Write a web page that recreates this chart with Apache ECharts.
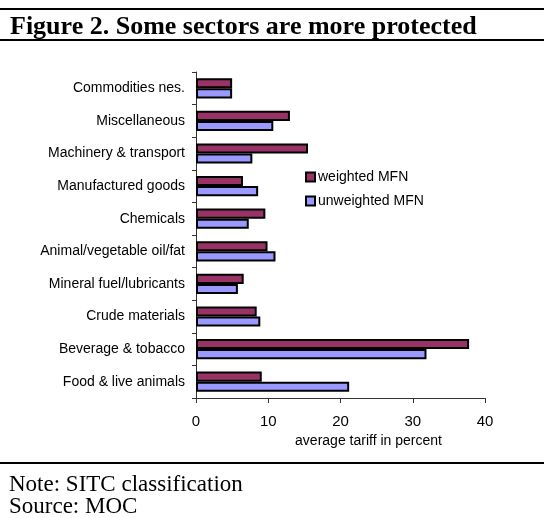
<!DOCTYPE html>
<html>
<head>
<meta charset="utf-8">
<script src="https://cdn.jsdelivr.net/npm/echarts@6/dist/echarts.min.js"></script>
<style>
  html, body { margin: 0; padding: 0; background: #fff; }
  #chart { width: 544px; height: 518px; }
</style>
</head>
<body>
<div id="chart"></div>
<script>
// sectors, bottom to top as drawn
var sectors = ['Food & live animals', 'Beverage & tobacco', 'Crude materials',
  'Mineral fuel/lubricants', 'Animal/vegetable oil/fat', 'Chemicals',
  'Manufactured goods', 'Machinery & transport', 'Miscellaneous', 'Commodities nes.'];

var weighted = [9.1, 37.8, 8.4, 6.6, 9.9, 9.6, 6.5, 15.5, 13.0, 5.0];
var unweighted = [21.2, 31.9, 8.9, 5.8, 11.0, 7.3, 8.6, 7.8, 10.7, 5.0];

var xTicks = [0, 10, 20, 30, 40];

var myChart = echarts.init(document.getElementById('chart'));

var serif = '"Liberation Serif", "Times New Roman", serif';

var option = {
  animation: false,
  backgroundColor: '#fff',
  textStyle: { fontFamily: 'Liberation Sans, Arial, sans-serif', color: '#000' },
  title: {
    text: 'Figure 2. Some sectors are more protected',
    left: 5,
    top: 9,
    textStyle: {
      fontFamily: serif,
      fontWeight: 'bold',
      fontSize: 26,
      color: '#000'
    }
  },
  graphic: [
    { type: 'rect', shape: { x: 0, y: 8, width: 544, height: 2 }, style: { fill: '#000' } },
    { type: 'rect', shape: { x: 0, y: 39, width: 544, height: 2 }, style: { fill: '#000' } },
    { type: 'rect', shape: { x: 0, y: 462, width: 544, height: 2 }, style: { fill: '#000' } },
    {
      type: 'text', left: 9, top: 473,
      style: { text: 'Note: SITC classification', fill: '#000', font: '23px ' + serif }
    },
    {
      type: 'text', left: 9, top: 495,
      style: { text: 'Source: MOC', fill: '#000', font: '23px ' + serif }
    }
  ],
  legend: {
    data: ['weighted MFN', 'unweighted MFN'],
    orient: 'vertical',
    left: 300,
    top: 165,
    icon: 'rect',
    itemWidth: 9,
    itemHeight: 9,
    itemGap: 10,
    textStyle: { fontSize: 14, color: '#000', padding: [0, 0, 0, -2] }
  },
  grid: {
    left: 196,
    right: 59,
    top: 72,
    bottom: 120
  },
  xAxis: {
    type: 'value',
    min: 0,
    max: 40,
    interval: 10,
    name: 'average tariff in percent',
    nameLocation: 'middle',
    nameGap: 36,
    nameTextStyle: { fontSize: 14, color: '#000', padding: [0, 0, 0, 56] },
    splitLine: { show: false },
    axisLine: { show: true, lineStyle: { color: '#333', width: 1 } },
    axisTick: { show: true, length: 5, lineStyle: { color: '#333' } },
    axisLabel: {
      fontSize: 15, color: '#000', margin: 16,
      customValues: xTicks
    }
  },
  yAxis: {
    type: 'category',
    data: sectors,
    axisLine: { show: true, lineStyle: { color: '#333', width: 1 } },
    axisTick: { show: true, length: 4, lineStyle: { color: '#333' } },
    axisLabel: { fontSize: 14, color: '#000', margin: 11 }
  },
  series: [
    {
      name: 'weighted MFN',
      type: 'bar',
      data: weighted,
      barGap: '0%',
      barCategoryGap: '38%',
      itemStyle: { color: '#993366', borderColor: '#000', borderWidth: 2 }
    },
    {
      name: 'unweighted MFN',
      type: 'bar',
      data: unweighted,
      barGap: '0%',
      barCategoryGap: '38%',
      itemStyle: { color: '#9999ff', borderColor: '#000', borderWidth: 2 }
    }
  ]
};

myChart.setOption(option);
</script>
</body>
</html>
